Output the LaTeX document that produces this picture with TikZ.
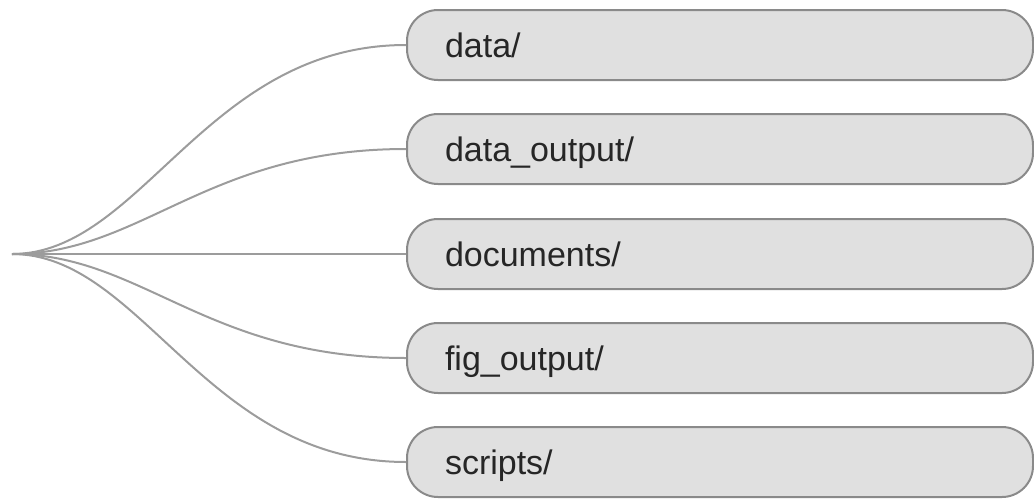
\documentclass[tikz,border=0pt]{standalone}
\usepackage{fontspec}
\setmainfont{Liberation Sans}
\begin{document}
\begin{tikzpicture}[x=1pt,y=-1pt,
  folder/.style={draw=boxline, line width=2pt, fill=boxfill, rounded corners=31pt,
    minimum width=626pt, minimum height=70pt, anchor=west, inner sep=0pt,
    text width=550pt, text height=26pt, text depth=2pt, align=left,
    font=\fontsize{34}{40}\selectfont, text=black!85},
  branch/.style={draw=wire, line width=2pt}]
\definecolor{boxfill}{HTML}{E0E0E0}
\definecolor{boxline}{HTML}{8A8A8A}
\definecolor{wire}{HTML}{9C9C9C}
\useasboundingbox (0,0) rectangle (1034,499);
\coordinate (root) at (12,254);
\node[folder] (n1) at (406,45) {data/};
\node[folder] (n2) at (406,149) {data\_output/};
\node[folder] (n3) at (406,254) {documents/};
\node[folder] (n4) at (406,358) {fig\_output/};
\node[folder] (n5) at (406,462) {scripts/};
\foreach \n in {n1,n2,n3,n4,n5}
  \draw[branch] (root) .. controls +(130,0) and +(-200,0) .. (\n.west);
\end{tikzpicture}
\end{document}
